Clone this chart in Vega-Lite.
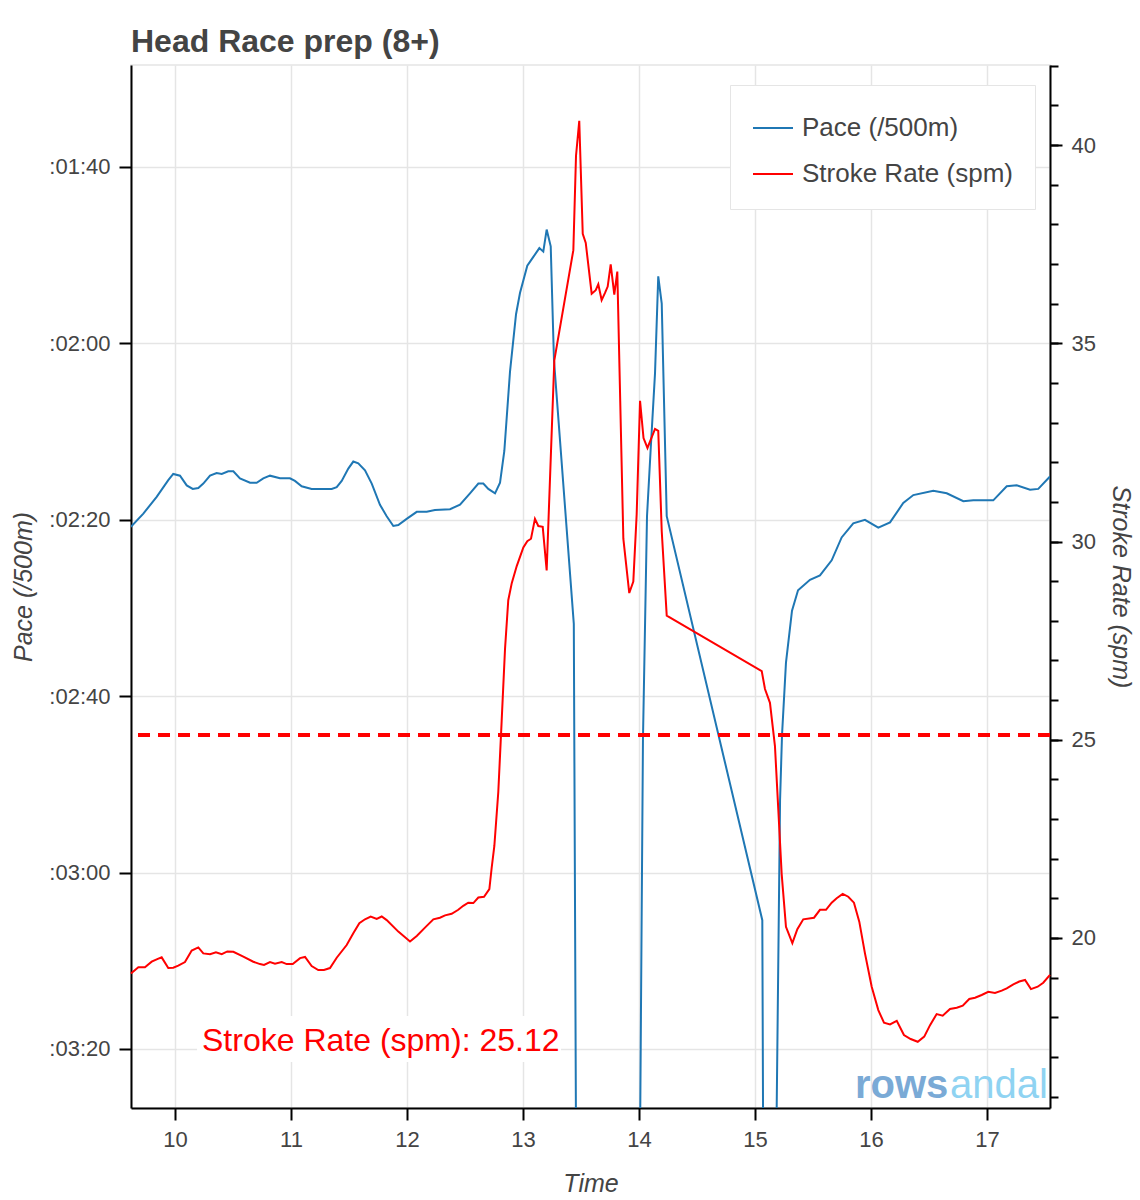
{
  "$schema": "https://vega.github.io/schema/vega-lite/v6.json",
  "width": 919,
  "height": 1043,
  "autosize": {"type": "none"},
  "padding": {"left": 131, "top": 65, "right": 90, "bottom": 92},
  "background": "white",
  "title": {"text": "Head Race prep (8+)", "anchor": "start", "frame": "group", "fontSize": 32, "fontWeight": "bold", "color": "#444444", "font": "Liberation Sans", "offset": 6},
  "config": {
    "font": "Liberation Sans",
    "view": {"stroke": "#e5e5e5", "strokeWidth": 1.5},
    "axis": {"domainColor": "black", "domainWidth": 2, "tickColor": "black", "tickWidth": 2, "tickSize": 12, "labelColor": "#444444", "labelFontSize": 22, "labelFont": "Liberation Sans", "titleColor": "#444444", "titleFont": "Liberation Sans", "titleFontSize": 25, "titleFontStyle": "italic", "titleFontWeight": "normal", "gridColor": "#e5e5e5", "gridWidth": 1.5, "labelPadding": 9, "titlePadding": 12},
    "axisX": {"titlePadding": 21}
  },
  "datasets": {
    "pace": [
      {"t": 9.62, "pace": 140.8}, {"t": 9.727, "pace": 139.3}, {"t": 9.842, "pace": 137.4}, {"t": 9.942, "pace": 135.5}, {"t": 9.985, "pace": 134.8},
      {"t": 10.043, "pace": 135.0}, {"t": 10.101, "pace": 136.1}, {"t": 10.153, "pace": 136.5}, {"t": 10.201, "pace": 136.4}, {"t": 10.244, "pace": 135.9},
      {"t": 10.302, "pace": 135.0}, {"t": 10.359, "pace": 134.7}, {"t": 10.403, "pace": 134.8}, {"t": 10.459, "pace": 134.5}, {"t": 10.503, "pace": 134.5},
      {"t": 10.56, "pace": 135.3}, {"t": 10.647, "pace": 135.8}, {"t": 10.704, "pace": 135.8}, {"t": 10.761, "pace": 135.3}, {"t": 10.819, "pace": 135.0},
      {"t": 10.905, "pace": 135.3}, {"t": 10.991, "pace": 135.3}, {"t": 11.034, "pace": 135.6}, {"t": 11.092, "pace": 136.2}, {"t": 11.178, "pace": 136.5},
      {"t": 11.278, "pace": 136.5}, {"t": 11.351, "pace": 136.5}, {"t": 11.394, "pace": 136.3}, {"t": 11.437, "pace": 135.6}, {"t": 11.494, "pace": 134.2},
      {"t": 11.537, "pace": 133.4}, {"t": 11.58, "pace": 133.6}, {"t": 11.638, "pace": 134.4}, {"t": 11.696, "pace": 135.9}, {"t": 11.767, "pace": 138.3},
      {"t": 11.825, "pace": 139.6}, {"t": 11.882, "pace": 140.7}, {"t": 11.925, "pace": 140.6}, {"t": 11.997, "pace": 139.9}, {"t": 12.084, "pace": 139.1},
      {"t": 12.17, "pace": 139.1}, {"t": 12.241, "pace": 138.9}, {"t": 12.371, "pace": 138.8}, {"t": 12.457, "pace": 138.3}, {"t": 12.543, "pace": 137.0},
      {"t": 12.615, "pace": 135.9}, {"t": 12.658, "pace": 135.9}, {"t": 12.701, "pace": 136.5}, {"t": 12.759, "pace": 137.0}, {"t": 12.802, "pace": 135.8},
      {"t": 12.839, "pace": 132.2}, {"t": 12.888, "pace": 123.2}, {"t": 12.94, "pace": 116.7}, {"t": 12.974, "pace": 114.3}, {"t": 13.037, "pace": 111.2},
      {"t": 13.089, "pace": 110.2}, {"t": 13.141, "pace": 109.2}, {"t": 13.175, "pace": 109.6}, {"t": 13.204, "pace": 107.1}, {"t": 13.239, "pace": 109.0},
      {"t": 13.267, "pace": 121.9}, {"t": 13.438, "pace": 151.8}, {"t": 13.47, "pace": 250}, {"t": 13.987, "pace": 250}, {"t": 14.034, "pace": 165.0},
      {"t": 14.069, "pace": 139.6}, {"t": 14.099, "pace": 132.4}, {"t": 14.138, "pace": 123.4}, {"t": 14.166, "pace": 112.4}, {"t": 14.196, "pace": 115.5},
      {"t": 14.239, "pace": 139.6}, {"t": 15.063, "pace": 185.4}, {"t": 15.082, "pace": 250}, {"t": 15.151, "pace": 250}, {"t": 15.216, "pace": 171.8},
      {"t": 15.233, "pace": 164.4}, {"t": 15.267, "pace": 156.2}, {"t": 15.319, "pace": 150.3}, {"t": 15.371, "pace": 148.0}, {"t": 15.474, "pace": 146.8},
      {"t": 15.56, "pace": 146.3}, {"t": 15.661, "pace": 144.6}, {"t": 15.747, "pace": 142.0}, {"t": 15.847, "pace": 140.4}, {"t": 15.948, "pace": 140.0},
      {"t": 16.063, "pace": 140.9}, {"t": 16.164, "pace": 140.3}, {"t": 16.278, "pace": 138.1}, {"t": 16.365, "pace": 137.2}, {"t": 16.537, "pace": 136.7},
      {"t": 16.653, "pace": 137.0}, {"t": 16.796, "pace": 137.9}, {"t": 16.882, "pace": 137.8}, {"t": 17.054, "pace": 137.8}, {"t": 17.17, "pace": 136.2},
      {"t": 17.256, "pace": 136.1}, {"t": 17.371, "pace": 136.6}, {"t": 17.442, "pace": 136.5}, {"t": 17.543, "pace": 135.1}
    ],
    "spm": [
      {"t": 9.62, "spm": 19.1}, {"t": 9.684, "spm": 19.26}, {"t": 9.741, "spm": 19.26}, {"t": 9.799, "spm": 19.4}, {"t": 9.842, "spm": 19.46},
      {"t": 9.885, "spm": 19.51}, {"t": 9.942, "spm": 19.24}, {"t": 9.985, "spm": 19.25}, {"t": 10.028, "spm": 19.3}, {"t": 10.086, "spm": 19.39},
      {"t": 10.144, "spm": 19.68}, {"t": 10.201, "spm": 19.76}, {"t": 10.244, "spm": 19.61}, {"t": 10.302, "spm": 19.59}, {"t": 10.353, "spm": 19.64},
      {"t": 10.403, "spm": 19.59}, {"t": 10.451, "spm": 19.66}, {"t": 10.503, "spm": 19.65}, {"t": 10.589, "spm": 19.53}, {"t": 10.675, "spm": 19.4},
      {"t": 10.733, "spm": 19.34}, {"t": 10.767, "spm": 19.32}, {"t": 10.819, "spm": 19.39}, {"t": 10.862, "spm": 19.35}, {"t": 10.92, "spm": 19.39},
      {"t": 10.963, "spm": 19.34}, {"t": 11.015, "spm": 19.34}, {"t": 11.078, "spm": 19.49}, {"t": 11.121, "spm": 19.52}, {"t": 11.178, "spm": 19.29},
      {"t": 11.235, "spm": 19.19}, {"t": 11.284, "spm": 19.19}, {"t": 11.336, "spm": 19.24}, {"t": 11.394, "spm": 19.5}, {"t": 11.48, "spm": 19.82},
      {"t": 11.537, "spm": 20.12}, {"t": 11.589, "spm": 20.37}, {"t": 11.638, "spm": 20.47}, {"t": 11.687, "spm": 20.54}, {"t": 11.739, "spm": 20.48},
      {"t": 11.782, "spm": 20.54}, {"t": 11.825, "spm": 20.45}, {"t": 11.925, "spm": 20.16}, {"t": 12.026, "spm": 19.91}, {"t": 12.084, "spm": 20.05},
      {"t": 12.155, "spm": 20.26}, {"t": 12.227, "spm": 20.47}, {"t": 12.284, "spm": 20.51}, {"t": 12.328, "spm": 20.57}, {"t": 12.385, "spm": 20.61},
      {"t": 12.442, "spm": 20.71}, {"t": 12.485, "spm": 20.81}, {"t": 12.528, "spm": 20.89}, {"t": 12.572, "spm": 20.88}, {"t": 12.615, "spm": 21.02},
      {"t": 12.664, "spm": 21.04}, {"t": 12.71, "spm": 21.23}, {"t": 12.73, "spm": 21.77}, {"t": 12.753, "spm": 22.32}, {"t": 12.787, "spm": 23.68},
      {"t": 12.816, "spm": 25.47}, {"t": 12.845, "spm": 27.29}, {"t": 12.873, "spm": 28.52}, {"t": 12.903, "spm": 28.95}, {"t": 12.946, "spm": 29.38},
      {"t": 13.003, "spm": 29.85}, {"t": 13.037, "spm": 30.01}, {"t": 13.069, "spm": 30.07}, {"t": 13.103, "spm": 30.57}, {"t": 13.132, "spm": 30.39},
      {"t": 13.17, "spm": 30.37}, {"t": 13.204, "spm": 29.27}, {"t": 13.27, "spm": 34.57}, {"t": 13.434, "spm": 37.35}, {"t": 13.457, "spm": 39.73},
      {"t": 13.485, "spm": 40.61}, {"t": 13.515, "spm": 37.76}, {"t": 13.541, "spm": 37.53}, {"t": 13.592, "spm": 36.25}, {"t": 13.627, "spm": 36.34},
      {"t": 13.649, "spm": 36.49}, {"t": 13.678, "spm": 36.09}, {"t": 13.707, "spm": 36.27}, {"t": 13.73, "spm": 36.43}, {"t": 13.756, "spm": 36.99},
      {"t": 13.787, "spm": 36.23}, {"t": 13.813, "spm": 36.81}, {"t": 13.865, "spm": 30.07}, {"t": 13.916, "spm": 28.7}, {"t": 13.951, "spm": 28.99},
      {"t": 13.98, "spm": 30.69}, {"t": 14.009, "spm": 33.55}, {"t": 14.039, "spm": 32.61}, {"t": 14.073, "spm": 32.36}, {"t": 14.138, "spm": 32.84},
      {"t": 14.166, "spm": 32.79}, {"t": 14.196, "spm": 30.26}, {"t": 14.239, "spm": 28.13}, {"t": 15.058, "spm": 26.73}, {"t": 15.086, "spm": 26.28},
      {"t": 15.129, "spm": 25.93}, {"t": 15.172, "spm": 24.84}, {"t": 15.201, "spm": 23.23}, {"t": 15.23, "spm": 21.61}, {"t": 15.267, "spm": 20.28},
      {"t": 15.322, "spm": 19.87}, {"t": 15.365, "spm": 20.22}, {"t": 15.416, "spm": 20.47}, {"t": 15.509, "spm": 20.51}, {"t": 15.56, "spm": 20.71},
      {"t": 15.612, "spm": 20.71}, {"t": 15.661, "spm": 20.89}, {"t": 15.704, "spm": 21.0}, {"t": 15.756, "spm": 21.11}, {"t": 15.804, "spm": 21.04},
      {"t": 15.853, "spm": 20.89}, {"t": 15.899, "spm": 20.41}, {"t": 15.948, "spm": 19.61}, {"t": 16.006, "spm": 18.77}, {"t": 16.063, "spm": 18.18},
      {"t": 16.112, "spm": 17.86}, {"t": 16.164, "spm": 17.82}, {"t": 16.222, "spm": 17.91}, {"t": 16.284, "spm": 17.55}, {"t": 16.342, "spm": 17.45},
      {"t": 16.403, "spm": 17.38}, {"t": 16.459, "spm": 17.51}, {"t": 16.509, "spm": 17.8}, {"t": 16.566, "spm": 18.08}, {"t": 16.618, "spm": 18.04},
      {"t": 16.681, "spm": 18.21}, {"t": 16.739, "spm": 18.24}, {"t": 16.791, "spm": 18.29}, {"t": 16.847, "spm": 18.46}, {"t": 16.897, "spm": 18.49},
      {"t": 16.954, "spm": 18.56}, {"t": 17.011, "spm": 18.64}, {"t": 17.069, "spm": 18.61}, {"t": 17.127, "spm": 18.67}, {"t": 17.17, "spm": 18.73},
      {"t": 17.227, "spm": 18.83}, {"t": 17.278, "spm": 18.9}, {"t": 17.328, "spm": 18.94}, {"t": 17.379, "spm": 18.71}, {"t": 17.437, "spm": 18.77},
      {"t": 17.485, "spm": 18.87}, {"t": 17.543, "spm": 19.07}
    ]
  },
  "layer": [
    {
      "layer": [
        {
          "data": {"name": "pace"},
          "mark": {"type": "line", "color": "#1f77b4", "strokeWidth": 2, "clip": true},
          "encoding": {
            "x": {"field": "t", "type": "quantitative", "scale": {"domain": [9.6207, 17.5431], "nice": false, "zero": false},
                  "axis": {"title": "Time", "values": [10, 11, 12, 13, 14, 15, 16, 17], "format": "d", "grid": true}},
            "y": {"field": "pace", "type": "quantitative", "scale": {"domain": [88.44, 206.69], "reverse": true, "nice": false, "zero": false},
                  "axis": {"title": "Pace (/500m)", "orient": "left", "values": [100, 120, 140, 160, 180, 200], "grid": true,
                           "labelExpr": "':0' + floor(datum.value/60) + ':' + (datum.value % 60 < 10 ? '0' : '') + (datum.value % 60)"}},
            "color": {"datum": "Pace (/500m)", "type": "nominal",
                      "scale": {"domain": ["Pace (/500m)", "Stroke Rate (spm)"], "range": ["#1f77b4", "#ff0000"]},
                      "legend": {"title": null, "orient": "none", "legendX": 599, "legendY": 20, "direction": "vertical",
                                 "symbolType": "stroke", "symbolSize": 1600, "symbolStrokeWidth": 2,
                                 "labelFontSize": 26, "labelColor": "#444444", "labelFont": "Liberation Sans", "labelLimit": 400, "labelOffset": 8,
                                 "fillColor": "white", "strokeColor": "#e5e5e5", "padding": 22, "rowPadding": 12}}
          }
        },
        {
          "data": {"values": [{}]},
          "mark": {"type": "rect", "fill": "white"},
          "encoding": {
            "x": {"datum": 10.19, "type": "quantitative",
                  "axis": {"title": "Time", "values": [10, 11, 12, 13, 14, 15, 16, 17], "format": "d", "grid": true}},
            "x2": {"datum": 13.328},
            "y": {"datum": 196.26, "type": "quantitative",
                  "axis": {"title": "Pace (/500m)", "orient": "left", "values": [100, 120, 140, 160, 180, 200], "grid": true,
                           "labelExpr": "':0' + floor(datum.value/60) + ':' + (datum.value % 60 < 10 ? '0' : '') + (datum.value % 60)"}},
            "y2": {"datum": 201.47}
          }
        },
        {
          "data": {"values": [{}]},
          "mark": {"type": "text", "color": "#ff0000", "fontSize": 32, "font": "Liberation Sans", "align": "left", "baseline": "alphabetic", "text": "Stroke Rate (spm): 25.12"},
          "encoding": {
            "x": {"datum": 10.233, "type": "quantitative",
                  "axis": {"title": "Time", "values": [10, 11, 12, 13, 14, 15, 16, 17], "format": "d", "grid": true}},
            "y": {"datum": 200.2, "type": "quantitative",
                  "axis": {"title": "Pace (/500m)", "orient": "left", "values": [100, 120, 140, 160, 180, 200], "grid": true,
                           "labelExpr": "':0' + floor(datum.value/60) + ':' + (datum.value % 60 < 10 ? '0' : '') + (datum.value % 60)"}}
          }
        },
        {
          "data": {"values": [{}]},
          "mark": {"type": "text", "color": "#7aaad6", "fontSize": 40, "fontWeight": "bold", "font": "Liberation Sans", "align": "left", "baseline": "alphabetic", "text": "rows"},
          "encoding": {
            "x": {"datum": 15.862, "type": "quantitative",
                  "axis": {"title": "Time", "values": [10, 11, 12, 13, 14, 15, 16, 17], "format": "d", "grid": true}},
            "y": {"datum": 205.6, "type": "quantitative",
                  "axis": {"title": "Pace (/500m)", "orient": "left", "values": [100, 120, 140, 160, 180, 200], "grid": true,
                           "labelExpr": "':0' + floor(datum.value/60) + ':' + (datum.value % 60 < 10 ? '0' : '') + (datum.value % 60)"}}
          }
        },
        {
          "data": {"values": [{}]},
          "mark": {"type": "text", "color": "#8fd3f2", "fontSize": 40, "font": "Liberation Sans", "align": "left", "baseline": "alphabetic", "text": "andal"},
          "encoding": {
            "x": {"datum": 16.681, "type": "quantitative",
                  "axis": {"title": "Time", "values": [10, 11, 12, 13, 14, 15, 16, 17], "format": "d", "grid": true}},
            "y": {"datum": 205.6, "type": "quantitative",
                  "axis": {"title": "Pace (/500m)", "orient": "left", "values": [100, 120, 140, 160, 180, 200], "grid": true,
                           "labelExpr": "':0' + floor(datum.value/60) + ':' + (datum.value % 60 < 10 ? '0' : '') + (datum.value % 60)"}}
          }
        }
      ]
    },
    {
      "layer": [
        {
          "data": {"name": "spm"},
          "mark": {"type": "line", "color": "#ff0000", "strokeWidth": 2},
          "encoding": {
            "x": {"field": "t", "type": "quantitative",
                  "axis": {"title": "Time", "values": [10, 11, 12, 13, 14, 15, 16, 17], "format": "d", "grid": true}},
            "y": {"field": "spm", "type": "quantitative", "scale": {"domain": [15.71, 42.02], "nice": false, "zero": false},
                  "axis": {"title": "Stroke Rate (spm)", "orient": "right", "values": [20, 25, 30, 35, 40], "grid": false}},
            "color": {"datum": "Stroke Rate (spm)", "type": "nominal"}
          }
        },
        {
          "data": {"values": [{}]},
          "mark": {"type": "rule", "color": "#ff0000", "strokeWidth": 4, "strokeDash": [12, 8]},
          "encoding": {
            "y": {"datum": 25.12, "type": "quantitative",
                  "axis": {"title": null, "orient": "right", "values": [16, 17, 18, 19, 20, 21, 22, 23, 24, 25, 26, 27, 28, 29, 30, 31, 32, 33, 34, 35, 36, 37, 38, 39, 40, 41, 42],
                           "labels": false, "domain": false, "grid": false, "tickSize": 8}}
          }
        }
      ],
      "resolve": {"axis": {"y": "independent"}}
    }
  ],
  "resolve": {"scale": {"y": "independent"}}
}
